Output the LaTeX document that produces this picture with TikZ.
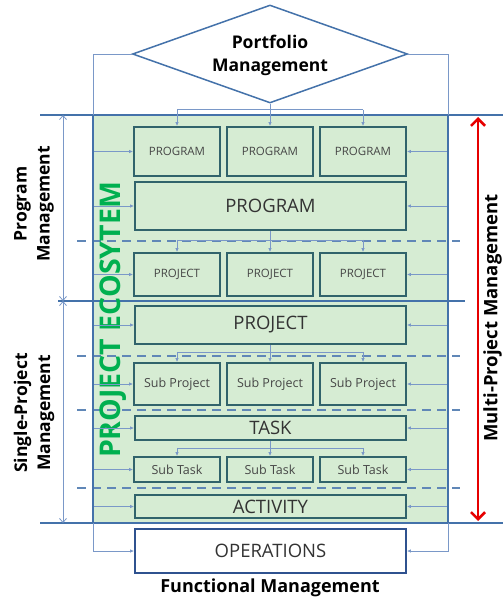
\documentclass[tikz,border=0pt]{standalone}
\usepackage{fontspec}
\setmainfont{Open Sans}
\usetikzlibrary{shapes.geometric,arrows.meta}

\definecolor{ecofill}{RGB}{214,236,211}
\definecolor{boxline}{RGB}{49,99,107}
\definecolor{frameblue}{RGB}{68,114,170}
\definecolor{linkblue}{RGB}{122,152,200}
\definecolor{ecogreen}{RGB}{0,176,80}
\definecolor{labelgray}{RGB}{70,70,70}
\definecolor{opsblue}{RGB}{47,82,143}

\begin{document}
\begin{tikzpicture}
[x=1pt, y=-1pt,
 box/.style={draw=boxline, line width=1.8pt, fill=ecofill, text=labelgray, inner sep=0pt},
 unit/.style={box, minimum width=86pt, minimum height=#1, font=\fontsize{11.5}{13}\selectfont},
 level/.style={box, minimum width=271pt, minimum height=#1, text=black!80, font=\fontsize{18.5}{20}\selectfont},
 link/.style={draw=linkblue, line width=.8pt},
 feed/.style={link, -{Latex[length=4pt,width=3.5pt]}},
 band/.style={draw=frameblue, line width=1.6pt},
 split/.style={draw=frameblue!85, line width=1.8pt, dash pattern=on 9pt off 6pt},
 span/.style={link, {Straight Barb[length=4pt,width=7pt]}-{Straight Barb[length=4pt,width=7pt]}},
 tag/.style={font=\bfseries\fontsize{17.5}{23}\selectfont, align=center}]
\useasboundingbox (0,0) rectangle (503,599);

% ecosystem area and level lines
\fill[ecofill] (93,115) rectangle (448,523);
\foreach \y in {241,356,410,488}
  \draw[split] (77,\y) -- (460,\y);
\draw[band] (40,115) -- (503,115);
\draw[band] (40,523) -- (503,523);
\draw[band, line width=1.2pt] (58,301) -- (465,301);

\node[rotate=90, text=ecogreen, font=\bfseries\fontsize{28.5}{28}\selectfont] (eco) at (113,320) {PROJECT ECOSYTEM};

% portfolio on top
\node[diamond, aspect=2.8, draw=frameblue, line width=1.5pt, fill=white, inner sep=0pt,
  minimum width=275pt, minimum height=98pt, tag] (pm) at (270,54) {\strut Portfolio\\Management};
\coordinate (lft) at (93,54);
\coordinate (rgt) at (448,54);

% levels
\node[unit=49pt] (g1) at (177,151.5) {PROGRAM};
\node[unit=49pt] (g2) at (270,151.5) {PROGRAM};
\node[unit=49pt] (g3) at (363,151.5) {PROGRAM};
\node[level=48pt] (prog) at (270.5,206) {PROGRAM};
\node[unit=43pt] (j1) at (177,274.5) {PROJECT};
\node[unit=43pt] (j2) at (270,274.5) {PROJECT};
\node[unit=43pt] (j3) at (363,274.5) {PROJECT};
\node[level=38pt] (proj) at (270.5,325) {PROJECT};
\node[unit=42pt, font=\fontsize{12.5}{14}\selectfont] (s1) at (177,384) {Sub Project};
\node[unit=42pt, font=\fontsize{12.5}{14}\selectfont] (s2) at (270,384) {Sub Project};
\node[unit=42pt, font=\fontsize{12.5}{14}\selectfont] (s3) at (363,384) {Sub Project};
\node[level=24pt] (task) at (270.5,428) {TASK};
\node[unit=25pt, font=\fontsize{12.5}{14}\selectfont] (t1) at (177,469.5) {Sub Task};
\node[unit=25pt, font=\fontsize{12.5}{14}\selectfont] (t2) at (270,469.5) {Sub Task};
\node[unit=25pt, font=\fontsize{12.5}{14}\selectfont] (t3) at (363,469.5) {Sub Task};
\node[level=23pt] (act) at (270.5,506.5) {ACTIVITY};
\node[level=44pt, draw=opsblue, fill=white] (ops) at (270.5,551) {OPERATIONS};

% fan-out from each level to the units below
\draw[link] (pm.south) -- ++(0,6) coordinate (pmfan);
\draw[link] (pmfan -| g1) -- (pmfan -| g3);
\foreach \n in {g1,g2,g3} \draw[feed] (pmfan -| \n) -- (\n.north);
\draw[link] (prog.south) -- ++(0,9) coordinate (progfan);
\draw[link] (progfan -| j1) -- (progfan -| j3);
\foreach \n in {j1,j2,j3} \draw[feed] (progfan -| \n) -- (\n.north);
\draw[link] (proj.south) -- ++(0,7) coordinate (projfan);
\draw[link] (projfan -| s1) -- (projfan -| s3);
\foreach \n in {s1,s2,s3} \draw[feed] (projfan -| \n) -- (\n.north);
\draw[link] (task.south) -- ++(0,7) coordinate (taskfan);
\draw[link] (taskfan -| t1) -- (taskfan -| t3);
\foreach \n in {t1,t2,t3} \draw[feed] (taskfan -| \n) -- (\n.north);

% side feeds
\draw[feed] (pm.west) -- (lft) -- (lft |- ops.west) -- (ops.west);
\draw[feed] (pm.east) -- (rgt) -- (rgt |- ops.east) -- (ops.east);
\foreach \n in {g1,prog,j1,proj,s1,task,t1,act}
  \draw[feed] (lft |- \n.west) -- (\n.west);
\foreach \n in {g3,prog,j3,proj,s3,task,t3,act}
  \draw[feed] (rgt |- \n.east) -- (\n.east);
\draw[band, line width=1.2pt] (93,115) -- (93,523);
\draw[band, line width=1.2pt] (448,115) -- (448,523);

% management spans
\draw[span] (63,115) -- (63,301);
\draw[span] (63,301) -- (63,523);
\draw[draw={rgb,255:red,230;green,0;blue,0}, line width=2.6pt,
  {Straight Barb[length=7pt,width=14pt]}-{Straight Barb[length=7pt,width=14pt]}] (478,117) -- (478,521);

\node[tag, rotate=90] (pgm) at (34,204) {Program\\Management};
\node[tag, rotate=90] (spm) at (34,413) {Single-Project\\Management};
\node[tag, rotate=90, anchor=south, inner sep=0pt, font=\bfseries\fontsize{18.5}{20}\selectfont] (mpm) at (502,318) {Multi-Project Management};
\node[tag, font=\bfseries\fontsize{18}{20}\selectfont] (fm) at (270,588) {Functional Management};
\end{tikzpicture}
\end{document}
